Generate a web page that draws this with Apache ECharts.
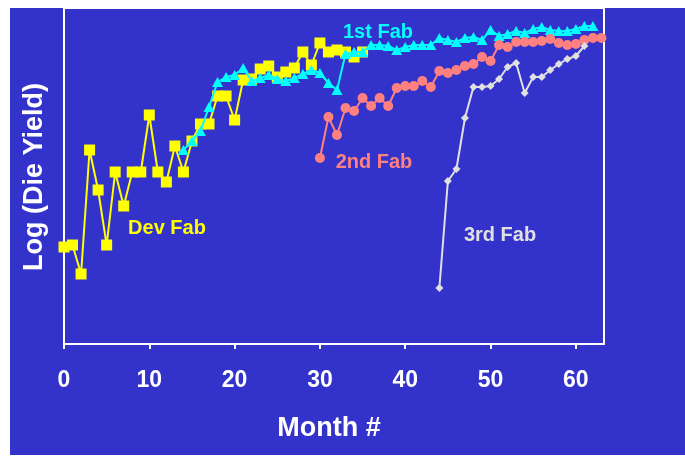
<!DOCTYPE html>
<html><head><meta charset="utf-8">
<script src="https://cdn.jsdelivr.net/npm/echarts@6/dist/echarts.min.js"></script>
<style>
html,body{margin:0;padding:0;background:#fff;}
#bg{position:absolute;left:10px;top:8px;width:675px;height:447px;background:#3333cc;}
#c{position:absolute;left:0;top:0;width:685px;height:456px;}
</style>
</head><body><div id="bg"></div><div id="c"></div>
<script>
// Log(Die Yield) in relative units, one value per month
const devStart = 0;
const devFab = [97,99,70,194,154,99,172,138,172,172,229,172,162,198,172,203,220,220,248,248,224,264,265,275,278,267,272,276,292,279,301,292,294,292,287,292];
const fab1Start = 14;
const fab1 = [194,203,213,237,262,267,269,276,263,266,269,265,263,266,270,274,271,261,254,290,292,292,299,299,298,294,297,299,299,299,306,304,302,306,307,304,314,308,310,313,311,315,317,314,313,313,315,318,318];
const fab2Start = 30;
const fab2 = [186,227,209,236,233,246,238,246,238,256,258,258,263,257,273,271,274,278,280,287,283,299,297,302,302,302,303,305,301,299,300,304,306,306];
const fab3Start = 44;
const fab3 = [56,163,175,226,257,257,258,265,277,281,251,267,267,274,280,285,288,298];
const xTicks = [0,10,20,30,40,50,60];
const names = ['Dev Fab','1st Fab','2nd Fab','3rd Fab'];
const xTitle = 'Month #';
const yTitle = 'Log (Die Yield)';

function pairs(start, vals){ return vals.map((v,i)=>[start+i, v]); }
const FONT = '"Liberation Sans", Arial, sans-serif';
const chart = echarts.init(document.getElementById('c'), null, {renderer:'canvas'});
function label(text, x, y, color, size, rot){
  return {type:'text', x:x, y:y, rotation: rot||0, silent:true, z:100,
    style:{text:text, x:0, y:0, fill:color, font:'bold '+size+'px '+FONT, align:'center', verticalAlign:'middle'}};
}
chart.setOption({
  backgroundColor:'transparent',
  animation:false,
  grid:{left:64, right:81, top:8, bottom:112, show:true, borderColor:'#ffffff', borderWidth:2, backgroundColor:'transparent'},
  xAxis:{type:'value', min:0, max:63.3, interval:10,
    axisLine:{show:true, lineStyle:{color:'#ffffff', width:2}},
    axisTick:{show:true, length:5, lineStyle:{color:'#ffffff', width:2}},
    axisLabel:{color:'#ffffff', fontSize:23, fontWeight:'bold', fontFamily:FONT, margin:25, showMaxLabel:false,
      formatter: v => xTicks.includes(v) ? String(v) : ''},
    splitLine:{show:false}},
  yAxis:{type:'value', min:0, max:336,
    axisLine:{show:true, lineStyle:{color:'#ffffff', width:2}},
    axisTick:{show:false}, axisLabel:{show:false}, splitLine:{show:false}},
  graphic:[
    label(names[0], 167, 228, '#ffff00', 20),
    label(names[1], 378, 32, '#00ffff', 20),
    label(names[2], 374, 162, '#ff8080', 20),
    label(names[3], 500, 235, '#e0e0e0', 20),
    label(xTitle, 329, 429, '#ffffff', 27),
    label(yTitle, 35, 177, '#ffffff', 27, Math.PI/2)
  ],
  series:[
    {name:names[0], type:'line', data:pairs(devStart, devFab), symbol:'rect', symbolSize:11,
      itemStyle:{color:'#ffff00'}, lineStyle:{color:'#ffff00', width:2}, z:2},
    {name:names[1], type:'line', data:pairs(fab1Start, fab1), symbol:'triangle', symbolSize:[11,10],
      itemStyle:{color:'#00ffff'}, lineStyle:{color:'#00ffff', width:2}, z:3},
    {name:names[2], type:'line', data:pairs(fab2Start, fab2), symbol:'circle', symbolSize:10,
      itemStyle:{color:'#ff8080'}, lineStyle:{color:'#ff8080', width:2}, z:4},
    {name:names[3], type:'line', data:pairs(fab3Start, fab3), symbol:'diamond', symbolSize:8,
      itemStyle:{color:'#e0e0e0'}, lineStyle:{color:'#e0e0e0', width:2}, z:5}
  ]
});
</script>
</body></html>
